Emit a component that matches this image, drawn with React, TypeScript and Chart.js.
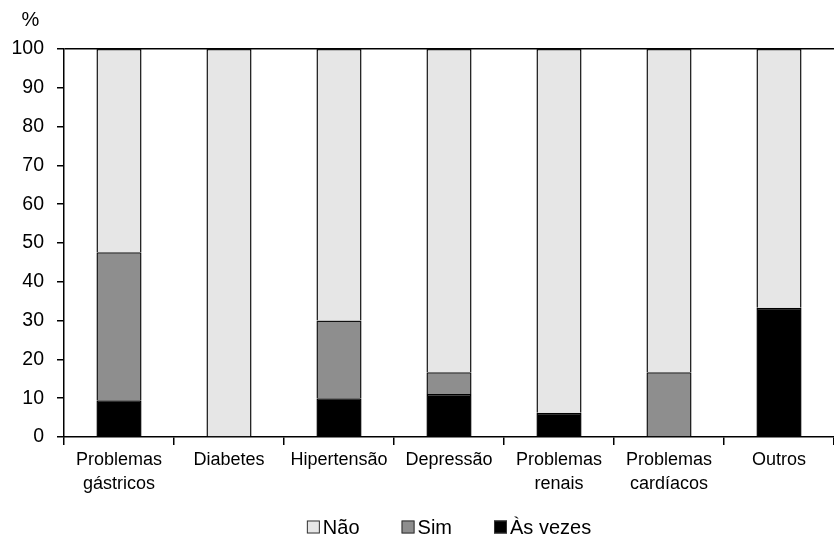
import React, { useEffect, useRef } from "react";
import { Chart, registerables } from "chart.js";

Chart.register(...registerables);

const categories: (string | string[])[] = [
  ["Problemas", "gástricos"],
  "Diabetes",
  "Hipertensão",
  "Depressão",
  ["Problemas", "renais"],
  ["Problemas", "cardíacos"],
  "Outros",
];
const asVezes = [9.5, 0, 10, 11.1, 6.25, 0, 33.3];
const sim = [38.1, 0, 20, 5.6, 0, 16.7, 0];
const nao = [52.4, 100, 70, 83.3, 93.75, 83.3, 66.7];
const yTicks = [0, 10, 20, 30, 40, 50, 60, 70, 80, 90, 100];

const FONT = "'Liberation Sans', Arial, sans-serif";

export default function App() {
  const ref = useRef<HTMLCanvasElement>(null);
  useEffect(() => {
    document.body.style.margin = "0";
    const extrasPlugin = {
      id: "extras",
      afterDraw(chart: any) {
        const ctx = chart.ctx;
        ctx.save();
        ctx.fillStyle = "#000";
        ctx.font = `20px ${FONT}`;
        ctx.textAlign = "center";
        ctx.textBaseline = "middle";
        ctx.fillText("%", 30.5, 20);

        // legend
        const items = chart.data.datasets.slice().reverse();
        const box = 13;
        const gap = 3;
        const spacing = 42;
        ctx.font = `20px ${FONT}`;
        const widths = items.map((d: any) => box + gap + ctx.measureText(d.label).width);
        const total = widths.reduce((a: number, b: number) => a + b, 0) + spacing * (items.length - 1);
        const ca = chart.chartArea;
        let x = (ca.left + ca.right) / 2 - total / 2;
        const yc = 527;
        ctx.textAlign = "left";
        items.forEach((d: any, i: number) => {
          ctx.fillStyle = d.backgroundColor;
          ctx.fillRect(x, yc - box / 2, box, box);
          ctx.strokeStyle = "#333";
          ctx.lineWidth = 1;
          ctx.strokeRect(x + 0.5, yc - box / 2 + 0.5, box - 1, box - 1);
          ctx.fillStyle = "#000";
          ctx.fillText(d.label, x + box + gap, yc + 1);
          x += widths[i] + spacing;
        });
        ctx.restore();
      },
    };
    const chart = new Chart(ref.current!, {
      type: "bar",
      data: {
        labels: categories,
        datasets: [
          { label: "Às vezes", data: asVezes, backgroundColor: "#000000", borderColor: "#000", borderWidth: 1.5 },
          { label: "Sim", data: sim, backgroundColor: "#8e8e8e", borderColor: "#111", borderWidth: 1.5 },
          { label: "Não", data: nao, backgroundColor: "#e6e6e6", borderColor: "#111", borderWidth: 1.5 },
        ],
      },
      options: {
        responsive: false,
        animation: false,
        layout: { padding: { top: 49, right: 0, left: 0, bottom: 0 } },
        datasets: { bar: { categoryPercentage: 1, barPercentage: 0.41 } },
        plugins: {
          legend: { display: false },
          tooltip: { enabled: false },
        },
        scales: {
          x: {
            stacked: true,
            offset: true,
            afterFit(scale: any) {
              scale.height = 98;
            },
            grid: { display: true, drawOnChartArea: false, offset: true, tickLength: 8, tickColor: "#000", lineWidth: 1.5 },
            border: { color: "#000", width: 1.5 },
            ticks: {
              color: "#000",
              font: { family: FONT, size: 18, lineHeight: 1.28 },
              maxRotation: 0,
              autoSkip: false,
              padding: 4,
            },
          },
          y: {
            stacked: true,
            min: 0,
            max: 100,
            afterBuildTicks(scale: any) {
              scale.ticks = yTicks.map((v) => ({ value: v }));
            },
            afterFit(scale: any) {
              scale.width = 64;
            },
            grid: {
              color: (c: any) => (c.tick && c.tick.value === 100 ? "#000" : "rgba(0,0,0,0)"),
              tickColor: "#000",
              tickLength: 7,
              lineWidth: 1.5,
            },
            border: { color: "#000", width: 1.5 },
            ticks: { color: "#000", font: { family: FONT, size: 19.5 }, padding: 13 },
          },
        },
      },
      plugins: [extrasPlugin],
    });
    return () => chart.destroy();
  }, []);
  return <canvas ref={ref} width={834} height={535} style={{ display: "block" }} />;
}
